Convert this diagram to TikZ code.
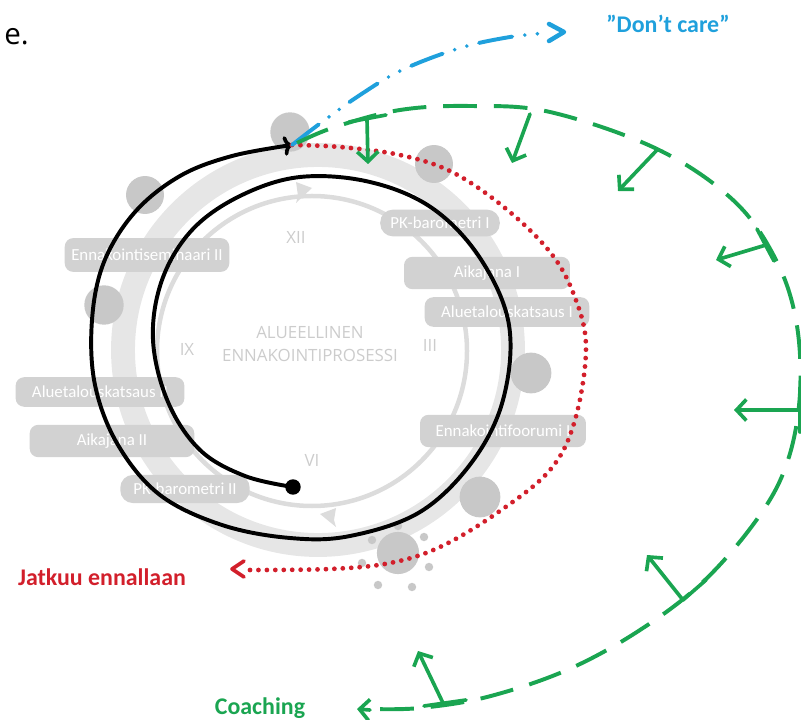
\documentclass[tikz,border=0pt]{standalone}
\usepackage{fontspec}
\setmainfont{Carlito}
\newfontfamily\osans{Open Sans}
\usetikzlibrary{arrows.meta}
\definecolor{ringgray}{HTML}{E6E6E6}
\definecolor{thingray}{HTML}{DCDCDC}
\definecolor{dotgray}{HTML}{C8C8C8}
\definecolor{boxgray}{HTML}{D2D2D2}
\definecolor{numgray}{HTML}{CCCCCC}
\definecolor{redline}{HTML}{D21F2B}
\definecolor{blueline}{HTML}{1FA0DC}
\definecolor{greenline}{HTML}{1AA551}
\tikzset{
  gbox/.style={fill=boxgray, rounded corners=6pt, inner sep=0pt, text=white,
    font=\fontsize{12}{13}\selectfont},
  gdot/.style={fill=dotgray, draw=none, circle, inner sep=0pt},
  numtext/.style={text=numgray, font=\osans\fontsize{12}{13}\selectfont},
  blackarc/.style={line width=2.8pt, black, line cap=round},
  reddots/.style={redline, line width=3.4pt, line cap=round, dash pattern=on 0pt off 6pt},
  bluedash/.style={blueline, line width=2.8pt, line cap=round,
    dash pattern=on 24pt off 9pt on 0pt off 9pt on 0pt off 9pt},
  greendash/.style={greenline, line width=2.8pt, dash pattern=on 24pt off 12pt},
  garrow/.style={greenline, line width=2.6pt, line cap=round,
    -{Straight Barb[length=7pt,width=15pt,line width=2.6pt]}},
  gbar/.style={greenline, line width=2.6pt, line cap=round},
  lbl/.style={font=\bfseries\fontsize{17}{19}\selectfont, inner sep=0pt}
}
\begin{document}
\begin{tikzpicture}[x=0.025cm,y=-0.025cm]
\useasboundingbox (0,0) rectangle (801,720);
% fragment of text
\node[font=\osans\fontsize{21}{24}\selectfont, anchor=base west, inner sep=0pt] (etext) at (4,45) {e.};
% process ring
\draw[ringgray, line width=17pt] (318,350) circle[radius=195];
\draw[thingray, line width=3.2pt] (312,351) circle[radius=155];
\fill[thingray] (312,188) -- (296,182) -- (298,196) -- (296,203) -- cycle;
\fill[thingray] (320,514) -- (336,508) -- (334,520) -- (336,527) -- cycle;
% dark circles
\node[gdot, minimum size=28pt] (c1) at (290,132) {};
\node[gdot, minimum size=27pt] (c2) at (434,164) {};
\node[gdot, minimum size=27pt] (c3) at (145,195) {};
\node[gdot, minimum size=28pt] (c4) at (104,305) {};
\node[gdot, minimum size=29pt] (c5) at (531,373) {};
\node[gdot, minimum size=29pt] (c6) at (480,497) {};
\node[gdot, minimum size=30pt] (c7) at (398,553) {};
\foreach \p/\n in {(372,540)/d1,(398,526)/d2,(424,537)/d3,(429,567)/d4,(412,587)/d5,(378,585)/d6,(362,563)/d7}
  \node[gdot, minimum size=6pt] (\n) at \p {};
% boxes
\node[gbox, minimum width=117pt, minimum height=24pt] (b1) at (147,255) {Ennakointiseminaari II};
\node[gbox, minimum width=85pt, minimum height=19pt, rounded corners=9pt] (b2) at (440,223) {PK-barometri I};
\node[gbox, minimum width=118pt, minimum height=23pt] (b3) at (487,273) {Aikajana I};
\node[gbox, minimum width=117pt, minimum height=21pt] (b4) at (507,312) {Aluetalouskatsaus I};
\node[gbox, minimum width=118pt, minimum height=23pt] (b5) at (503,431) {Ennakointifoorumi I};
\node[gbox, minimum width=120pt, minimum height=21pt] (b6) at (100,392) {Aluetalouskatsaus II};
\node[gbox, minimum width=117pt, minimum height=23pt] (b7) at (112,441) {Aikajana II};
\node[gbox, minimum width=92pt, minimum height=20pt, rounded corners=9pt] (b8) at (185,489) {PK-barometri II};
% numerals and title
\node[numtext] (n12) at (296,237) {XII};
\node[numtext] (n3) at (430,345) {III};
\node[numtext] (n6) at (312,460) {VI};
\node[numtext] (n9) at (187,349) {IX};
\node[text=numgray, font=\osans\fontsize{12}{17}\selectfont, align=center] (title) at (310,344) {ALUEELLINEN\\ENNAKOINTIPROSESSI};
% labels
\node[lbl, text=blueline] (dc) at (668,24) {”Don’t care”};
\node[lbl, text=redline] (jk) at (102,577) {Jatkuu ennallaan};
\node[lbl, text=greenline, anchor=base] (co) at (260,714) {Coaching};
% black spiral
\node[circle, fill=black, inner sep=0pt, minimum size=11pt] (start) at (293,487) {};
\coordinate (top) at (292,145);
\draw[blackarc, -{To[length=6pt,width=14pt,line width=2.6pt]}] plot[smooth, tension=0.6] coordinates {
 (start) (245,476) (200,450) (168,402) (153,340) (162,280) (192,230) (240,196) (300,177)
 (370,182) (432,208) (480,258) (509,325) (503,400) (472,462) (420,512) (350,536) (290,538)
 (222,525) (160,495) (118,445) (95,385) (92,320) (104,262) (135,212) (180,176) (232,156) (top)};
% red dotted
\coordinate (redend) at (232,569);
\draw[reddots] plot[smooth, tension=0.6] coordinates {
 (top) (340,147) (400,155) (452,172) (505,208) (550,252) (574,295) (586,347) (575,420)
 (550,470) (497,513) (440,547) (390,563) (330,569) (242,570)};
\draw[redline, line width=2.6pt, line cap=round, line join=round] (244,561) -- (redend) -- (244,577);
% blue dash-dot
\draw[bluedash] plot[smooth, tension=0.6] coordinates {
 (top) (322,122) (360,95) (402,70) (460,48) (510,37) (548,33)};
\draw[blueline, line width=3.2pt, line cap=round, line join=round] (549,24) -- (564,32) -- (549,41);
% green dashed
\coordinate (gst) at (297,143);
\coordinate (gend) at (357,709);
\draw[greendash] plot[smooth, tension=0.6] coordinates {
 (gst) (335,127) (400,110) (470,106) (550,112) (657,149) (733,200) (775,258) (796,320)
 (800,393) (788,460) (760,515) (705,580) (640,630) (567,670) (487,697) (420,708) (372,709)};
\draw[garrow] (370,710) -- (gend);
% green T-arrows
\coordinate (t1) at (367,119); \coordinate (a1) at (368,164);
\draw[gbar] (349,122) -- (386,115);
\draw[garrow] (t1) -- (a1);
\coordinate (t2) at (530,114); \coordinate (a2) at (512,163);
\draw[garrow] (t2) -- (a2);
\coordinate (t3) at (657,150); \coordinate (a3) at (618,191);
\draw[garrow] (t3) -- (a3);
\coordinate (t4) at (766,245); \coordinate (a4) at (716,260);
\draw[gbar] (757,229) -- (774,261);
\draw[garrow] (t4) -- (a4);
\coordinate (t5) at (800,410); \coordinate (a5) at (734,410);
\draw[gbar] (800,388) -- (800,432);
\draw[garrow] (t5) -- (a5);
\coordinate (t6) at (683,600); \coordinate (a6) at (647,555);
\draw[gbar] (683,600) -- (706,580);
\draw[garrow] (t6) -- (a6);
\coordinate (t7) at (443,703); \coordinate (a7) at (418,651);
\draw[gbar] (424,706) -- (466,700);
\draw[garrow] (t7) -- (a7);
\end{tikzpicture}
\end{document}
